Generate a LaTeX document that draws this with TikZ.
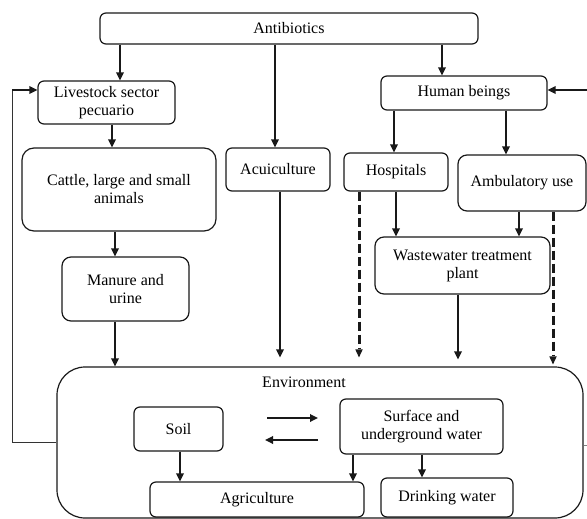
\documentclass[tikz,border=0pt]{standalone}
\usepackage{fontspec}
\setmainfont{Liberation Serif}
\usetikzlibrary{arrows.meta}
\begin{document}
\begin{tikzpicture}[x=1pt,y=-1pt,
  box/.style={draw=black!90, line width=1.2pt, rounded corners=6pt, align=center,
     inner sep=0pt, font=\fontsize{16}{18}\selectfont},
  arr/.style={line width=1.7pt, draw=black!90, -{Triangle[length=8pt,width=7.5pt]}},
  darr/.style={draw=black!90, dash pattern=on 9pt off 4pt, line width=3pt,
     -{Triangle[length=8pt,width=7.5pt,line width=0pt]}},
  thin line/.style={draw=black!80, line width=0.9pt}]
\useasboundingbox (0,0) rectangle (587,519);
\node[box, minimum width=378pt, minimum height=31pt] (anti) at (289,28.5) {Antibiotics};
\node[box, minimum width=137pt, minimum height=43pt] (live) at (106.5,102.5) {\fontsize{16}{15}\selectfont Livestock sector\\pecuario};
\node[box, rounded corners=12pt, minimum width=194pt, minimum height=83pt] (cattle) at (119,189.5) {Cattle, large and small\\animals};
\node[box, rounded corners=9pt, minimum width=127pt, minimum height=64pt] (manure) at (125.5,289) {Manure and\\urine};
\node[box, minimum width=104pt, minimum height=43pt] (acui) at (278,169.5) {Acuiculture};
\node[box, minimum width=166pt, minimum height=34pt] (human) at (464,93) {Human beings};
\node[box, minimum width=104pt, minimum height=38pt] (hosp) at (396,172) {Hospitals};
\node[box, rounded corners=9pt, minimum width=128pt, minimum height=56pt] (amb) at (522,183) {Ambulatory use};
\node[box, rounded corners=9pt, minimum width=175pt, minimum height=57pt] (wwtp) at (462.5,265.5) {Wastewater treatment\\plant};
\node[box, rounded corners=28pt, minimum width=526pt, minimum height=151pt] (env) at (320,442.5) {};
\node[font=\fontsize{16}{18}\selectfont, inner sep=0pt] (envlab) at (304,382) {Environment};
\node[box, minimum width=89pt, minimum height=44pt] (soil) at (178.5,429) {Soil};
\node[box, minimum width=163pt, minimum height=55pt] (water) at (421.5,426.5) {Surface and\\underground water};
\node[box, minimum width=214pt, minimum height=35pt] (agri) at (257,499.5) {Agriculture};
\node[box, minimum width=132pt, minimum height=39pt] (drink) at (447,497.5) {Drinking water};

\coordinate (xa) at (120,0);
\coordinate (xb) at (275,0);
\coordinate (xc) at (442,0);
\coordinate (xd) at (112,0);
\coordinate (xe) at (115,0);
\coordinate (xf) at (280,0);
\coordinate (xg) at (394,0);
\coordinate (xh) at (506,0);
\coordinate (xi) at (359,0);
\coordinate (xj) at (396,0);
\coordinate (xk) at (519,0);
\coordinate (xl) at (553,0);
\coordinate (xm) at (458,0);
\coordinate (xn) at (180,0);
\coordinate (xo) at (353,0);
\coordinate (xp) at (422,0);
\coordinate (lft) at (12,90);
\coordinate (lfb) at (12,442);
\coordinate (rgt) at (587,90);
\coordinate (rgb) at (587,445);
\coordinate (s1) at (267,418);
\coordinate (s2) at (318,418);
\coordinate (s3) at (318,440);
\coordinate (s4) at (265,440);

\draw[arr] (anti.south -| xa) -- (live.north -| xa);
\draw[arr] (anti.south -| xb) -- (acui.north -| xb);
\draw[arr] (anti.south -| xc) -- (human.north -| xc);
\draw[arr] (live.south -| xd) -- (cattle.north -| xd);
\draw[arr] (cattle.south -| xe) -- (manure.north -| xe);
\draw[arr] (manure.south -| xe) -- (env.north -| xe);
\draw[arr, shorten >=9pt] (acui.south -| xf) -- (env.north -| xf);
\draw[arr] (human.south -| xg) -- (hosp.north -| xg);
\draw[arr] (human.south -| xh) -- (amb.north -| xh);
\draw[darr, shorten >=9pt] (hosp.south -| xi) -- (env.north -| xi);
\draw[arr] (hosp.south -| xj) -- (wwtp.north -| xj);
\draw[arr] (amb.south -| xk) -- (wwtp.north -| xk);
\draw[darr, shorten >=2pt] (amb.south -| xl) -- (env.north -| xl);
\draw[arr, shorten >=7pt] (wwtp.south -| xm) -- (env.north -| xm);
\draw[arr] (soil.south -| xn) -- (agri.north -| xn);
\draw[arr] (water.south -| xo) -- (agri.north -| xo);
\draw[arr] (water.south -| xp) -- (drink.north -| xp);
\draw[arr] (s1) -- (s2);
\draw[arr] (s3) -- (s4);
\draw[thin line] (env.west |- lfb) -- (lfb) -- (lft);
\draw[arr] (lft) -- (live.west |- lft);
\draw[arr] (rgt) -- (human.east |- rgt);
\draw[thin line, draw=black!50] (env.east |- rgb) -- (rgb);
\end{tikzpicture}
\end{document}
